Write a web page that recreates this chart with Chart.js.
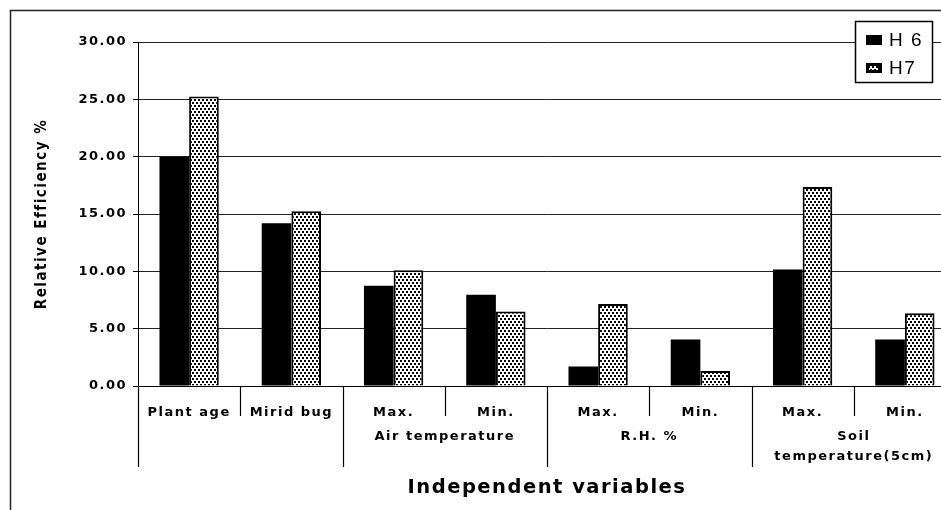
<!DOCTYPE html>
<html>
<head>
<meta charset="utf-8">
<title>Relative Efficiency</title>
<script src="https://cdn.jsdelivr.net/npm/chart.js"></script>
<style>
  html, body { margin: 0; padding: 0; background: #fff; overflow: hidden; }
  #wrap { width: 941px; height: 510px; overflow: hidden; }
  canvas { display: block; }
</style>
</head>
<body>
<div id="wrap"><canvas id="chart" width="960" height="510"></canvas></div>
<script>
// data
const categories = ['Plant age', 'Mirid bug', 'Max.', 'Min.', 'Max.', 'Min.', 'Max.', 'Min.'];
const groupNames = [['Air temperature'], ['R.H. %'], ['Soil', 'temperature(5cm)']];
const groupStarts = [2, 4, 6];
const seriesNames = ['H 6', 'H7'];
const h6 = [20.0, 14.2, 8.75, 7.95, 1.7, 4.05, 10.15, 4.05];
const h7 = [25.25, 15.25, 10.1, 6.5, 7.15, 1.3, 17.35, 6.35];
const yTicks = [0, 5, 10, 15, 20, 25, 30];

// dotted fill for H7
function dotPattern() {
    const c = document.createElement('canvas');
    c.width = 4; c.height = 6;
    const g = c.getContext('2d');
    g.fillStyle = '#fff';
    g.fillRect(0, 0, 4, 6);
    g.fillStyle = '#000';
    g.fillRect(0, 0, 2, 2);
    g.fillRect(2, 3, 2, 2);
    return g.createPattern(c, 'repeat');
}
const dots = dotPattern();

const extras = {
    id: 'extras',
    beforeDraw(chart) {
        chart.ctx.letterSpacing = '1.5px';
    },
    afterDraw(chart) {
        const ctx = chart.ctx;
        const x = chart.scales.x;
        const top = x.top;
        const edge = i => i === 0 ? x.left : i === categories.length ? x.right
            : (x.getPixelForValue(i - 1) + x.getPixelForValue(i)) / 2;

        ctx.save();
        ctx.strokeStyle = '#000';
        ctx.lineWidth = 1.2;
        const longEdges = [0, ...groupStarts, categories.length];
        for (let i = 0; i <= categories.length; i++) {
            const px = Math.round(edge(i)) + 0.5;
            ctx.beginPath();
            ctx.moveTo(px, top);
            ctx.lineTo(px, longEdges.includes(i) ? top + 81 : top + 30);
            ctx.stroke();
        }

        // second row of axis labels
        ctx.fillStyle = '#000';
        ctx.font = 'bold 13px "DejaVu Sans"';
        ctx.textAlign = 'center';
        ctx.textBaseline = 'middle';
        groupNames.forEach((lines, g) => {
            const s = groupStarts[g];
            const cx = (edge(s) + edge(s + 2)) / 2;
            lines.forEach((t, k) => ctx.fillText(t, cx, top + 51 + k * 20));
        });

        // legend box
        ctx.fillStyle = '#fff';
        ctx.fillRect(855.5, 21.5, 77, 61);
        ctx.lineWidth = 1.5;
        ctx.strokeRect(855.5, 21.5, 77, 61);
        ctx.font = '19px "Liberation Sans"';
        ctx.textAlign = 'left';
        chart.data.datasets.forEach((ds, i) => {
            const cy = 40 + i * 28;
            ctx.fillStyle = '#000';
            ctx.fillRect(866, cy - 5, 16, 10);
            if (i === 1) {
                ctx.fillStyle = dots;
                ctx.fillRect(869, cy - 2, 9, 4);
            }
            ctx.fillStyle = '#000';
            ctx.fillText(ds.label, 889, cy + 1);
        });

        // outer frame
        ctx.strokeStyle = '#222';
        ctx.lineWidth = 1.5;
        ctx.beginPath();
        ctx.moveTo(10.5, 510);
        ctx.lineTo(10.5, 10.5);
        ctx.lineTo(960, 10.5);
        ctx.stroke();
        ctx.restore();
        ctx.letterSpacing = '0px';
    }
};

new Chart(document.getElementById('chart'), {
    type: 'bar',
    data: {
        labels: categories,
        datasets: [
            { label: seriesNames[0], data: h6, backgroundColor: '#000', borderWidth: 0 },
            { label: seriesNames[1], data: h7, backgroundColor: dots, borderColor: '#000', borderWidth: 2 }
        ]
    },
    options: {
        responsive: false,
        animation: false,
        layout: { padding: { top: 42, right: 4, left: 0, bottom: 0 } },
        datasets: { bar: { categoryPercentage: 0.58, barPercentage: 1 } },
        plugins: { legend: { display: false }, tooltip: { enabled: false } },
        scales: {
            x: {
                grid: { display: false },
                border: { color: '#000', width: 1 },
                ticks: { color: '#000', font: { family: 'DejaVu Sans', size: 13, weight: 'bold' }, padding: 11, maxRotation: 0, autoSkip: false },
                title: { display: true, text: 'Independent variables', color: '#000',
                    font: { family: 'DejaVu Sans', size: 19.5, weight: 'bold' }, padding: { top: 0, bottom: 10 } },
                afterFit: s => { s.height = 124; }
            },
            y: {
                min: 0,
                max: 30,
                afterBuildTicks: s => { s.ticks = yTicks.map(v => ({ value: v })); },
                grid: { color: '#222', lineWidth: 1, tickLength: 5, tickColor: '#000' },
                border: { color: '#000', width: 1 },
                ticks: { color: '#000', font: { family: 'DejaVu Sans', size: 13, weight: 'bold' }, padding: 6,
                    callback: v => Number(v).toFixed(2) },
                title: { display: true, text: 'Relative Efficiency %', color: '#000',
                    font: { family: '"DejaVu Sans Condensed", "DejaVu Sans"', size: 15, weight: 'bold' }, padding: { top: 33, bottom: 0 } },
                afterFit: s => { s.width = 138; }
            }
        }
    },
    plugins: [extras]
});
</script>
</body>
</html>
